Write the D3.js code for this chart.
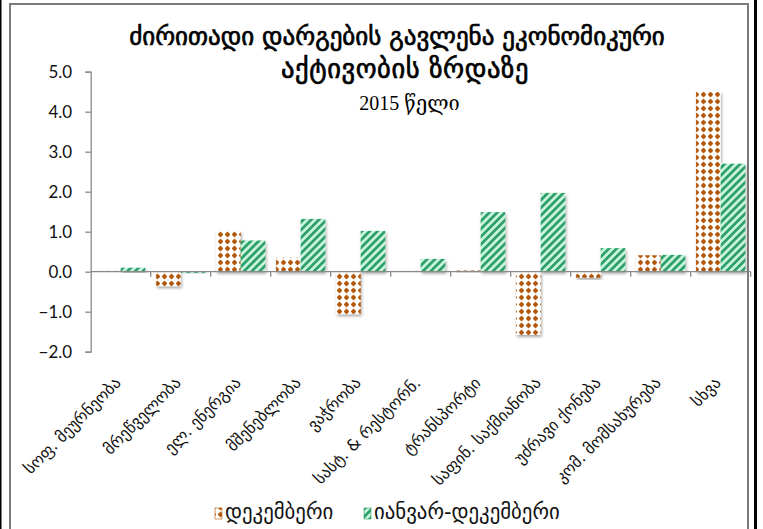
<!DOCTYPE html>
<html>
<head>
<meta charset="utf-8">
<script src="https://cdn.jsdelivr.net/npm/d3@7"></script>
<style>
  html, body { margin: 0; padding: 0; background: #fff; }
  svg { display: block; }
</style>
</head>
<body>
<svg id="chart" width="763" height="529"></svg>
<script>
const categories = ["სოფ. მეურნეობა", "მრეწველობა", "ელ. ენერგია", "მშენებლობა", "ვაჭრობა",
  "სასტ. & რესტორნ.", "ტრანსპორტი", "საფინ. საქმიანობა", "უძრავი ქონება", "კომ. მომსახურება", "სხვა"];
const decValues = [0.02, -0.36, 1.02, 0.35, -1.06, 0.02, 0.03, -1.58, -0.15, 0.41, 4.50];
const janDecValues = [0.10, -0.03, 0.78, 1.32, 1.02, 0.32, 1.49, 1.97, 0.59, 0.42, 2.70];
const seriesNames = ["დეკემბერი", "იანვარ-დეკემბერი"];
const yTicks = [-2, -1, 0, 1, 2, 3, 4, 5];
const titleLines = ["ძირითადი დარგების გავლენა ეკონომიკური", "აქტივობის ზრდაზე"];
const subtitle = "2015 წელი";

const svg = d3.select("#chart");
const geo = "'DejaVu Sans', sans-serif";

const defs = svg.append("defs");
const pDec = defs.append("pattern").attr("id", "pDec").attr("patternUnits", "userSpaceOnUse")
  .attr("width", 7).attr("height", 7);
pDec.append("rect").attr("width", 7).attr("height", 7).attr("fill", "#fff");
pDec.append("path").attr("d", "M3.5,0.6 L6.2,3.5 L3.5,6.4 L0.8,3.5 Z").attr("fill", "#c26718");
pDec.append("circle").attr("cx", 3.5).attr("cy", 3.5).attr("r", 2.1).attr("fill", "#b25810");
const pJan = defs.append("pattern").attr("id", "pJan").attr("patternUnits", "userSpaceOnUse")
  .attr("width", 5.5).attr("height", 5.5).attr("patternTransform", "rotate(45)");
pJan.append("rect").attr("width", 5.5).attr("height", 5.5).attr("fill", "#c8f4dd");
pJan.append("rect").attr("width", 2.7).attr("height", 5.5).attr("fill", "#2c9f69");
const flt = defs.append("filter").attr("id", "shadow").attr("x", "-30%").attr("y", "-30%")
  .attr("width", "160%").attr("height", "160%");
flt.append("feDropShadow").attr("dx", 1).attr("dy", 2).attr("stdDeviation", 1.4)
  .attr("flood-color", "#000").attr("flood-opacity", 0.35);

// outer frame
svg.append("rect").attr("x", 0).attr("y", 0).attr("width", 1.5).attr("height", 529).attr("fill", "#000");
svg.append("rect").attr("x", 754).attr("y", 0).attr("width", 3).attr("height", 529).attr("fill", "#000");

const y = d3.scaleLinear().domain([-2, 5]).range([351.7, 71.7]);
const x0 = d3.scaleBand().domain(categories).range([90.7, 750.7]).paddingInner(0.18).paddingOuter(0.09);
const x1 = d3.scaleBand().domain(seriesNames).range([0, x0.bandwidth()]);

// bars
const rows = categories.map((c, i) => ({ c, vals: [decValues[i], janDecValues[i]] }));
const g = svg.append("g");
rows.forEach(r => {
  r.vals.forEach((v, k) => {
    g.append("rect")
      .attr("x", x0(r.c) + x1(seriesNames[k]))
      .attr("y", y(Math.max(0, v)))
      .attr("width", x1.bandwidth())
      .attr("height", Math.abs(y(v) - y(0)))
      .attr("fill", k === 0 ? "url(#pDec)" : "url(#pJan)")
      .attr("filter", "url(#shadow)");
  });
});

// y axis
const yAxis = d3.axisLeft(y).tickValues(yTicks).tickFormat(d3.format(".1f")).tickSize(5.5).tickPadding(13);
const ya = svg.append("g").attr("transform", "translate(90.7,0)").call(yAxis);
ya.select(".domain").attr("stroke", "#8a8a8a").attr("stroke-width", 1.3);
ya.selectAll(".tick line").attr("stroke", "#8a8a8a").attr("stroke-width", 1.3);
ya.selectAll(".tick text").attr("font-family", "Lato, 'Liberation Sans', sans-serif")
  .attr("font-size", 17).attr("fill", "#111");

// x axis at zero
const xAxisG = svg.append("g");
xAxisG.append("line").attr("x1", 90.7).attr("x2", 750.7).attr("y1", y(0)).attr("y2", y(0))
  .attr("stroke", "#8a8a8a").attr("stroke-width", 1.3);
const boundaries = categories.map(c => x0(c) - x0.step() * x0.paddingInner() / 2);
boundaries.push(750.7);
xAxisG.selectAll(".bt").data(boundaries.slice(1)).enter().append("line")
  .attr("x1", d => d).attr("x2", d => d).attr("y1", y(0)).attr("y2", y(0) + 5)
  .attr("stroke", "#8a8a8a").attr("stroke-width", 1.3);

// category labels
svg.append("g").selectAll("text").data(categories).enter().append("text")
  .attr("transform", c => `translate(${x0(c) + x0.bandwidth() / 2 + 1},384) rotate(-45)`)
  .attr("text-anchor", "end")
  .attr("font-family", geo).attr("font-size", 16.2).attr("fill", "#111")
  .text(c => c);

// chart-area frame (gray)
svg.append("rect").attr("x", 10).attr("y", 4).attr("width", 738).attr("height", 540)
  .attr("fill", "none").attr("stroke", "#7a7a7a").attr("stroke-width", 2);

// title
const titleCfg = [{ x: 397, y: 45, fs: 25, ls: 0 }, { x: 405, y: 78, fs: 26.5, ls: 0.6 }];
svg.append("g").selectAll("text").data(titleLines).enter().append("text")
  .attr("x", (d, i) => titleCfg[i].x).attr("y", (d, i) => titleCfg[i].y)
  .attr("text-anchor", "middle")
  .attr("font-family", geo).attr("font-size", (d, i) => titleCfg[i].fs)
  .attr("letter-spacing", (d, i) => titleCfg[i].ls)
  .attr("stroke", "#000").attr("stroke-width", 0.7)
  .attr("fill", "#000").text(d => d);
svg.append("text").attr("x", 409.5).attr("y", 110).attr("text-anchor", "middle")
  .attr("font-family", "'Liberation Serif', 'DejaVu Serif', serif").attr("font-size", 20)
  .attr("fill", "#000").text(subtitle);

// legend
const legend = svg.append("g");
const legX = [215, 364];
seriesNames.forEach((s, k) => {
  legend.append("rect").attr("x", legX[k]).attr("y", 508).attr("width", 7).attr("height", 11)
    .attr("fill", k === 0 ? "url(#pDec)" : "url(#pJan)").attr("stroke", k === 0 ? "#b25810" : "#2c9f69")
    .attr("stroke-width", 0.6);
  legend.append("text").attr("x", legX[k] + 10).attr("y", 519)
    .attr("font-family", geo).attr("font-size", 20.8).attr("fill", "#111")
    .text(s);
});
</script>
</body>
</html>
